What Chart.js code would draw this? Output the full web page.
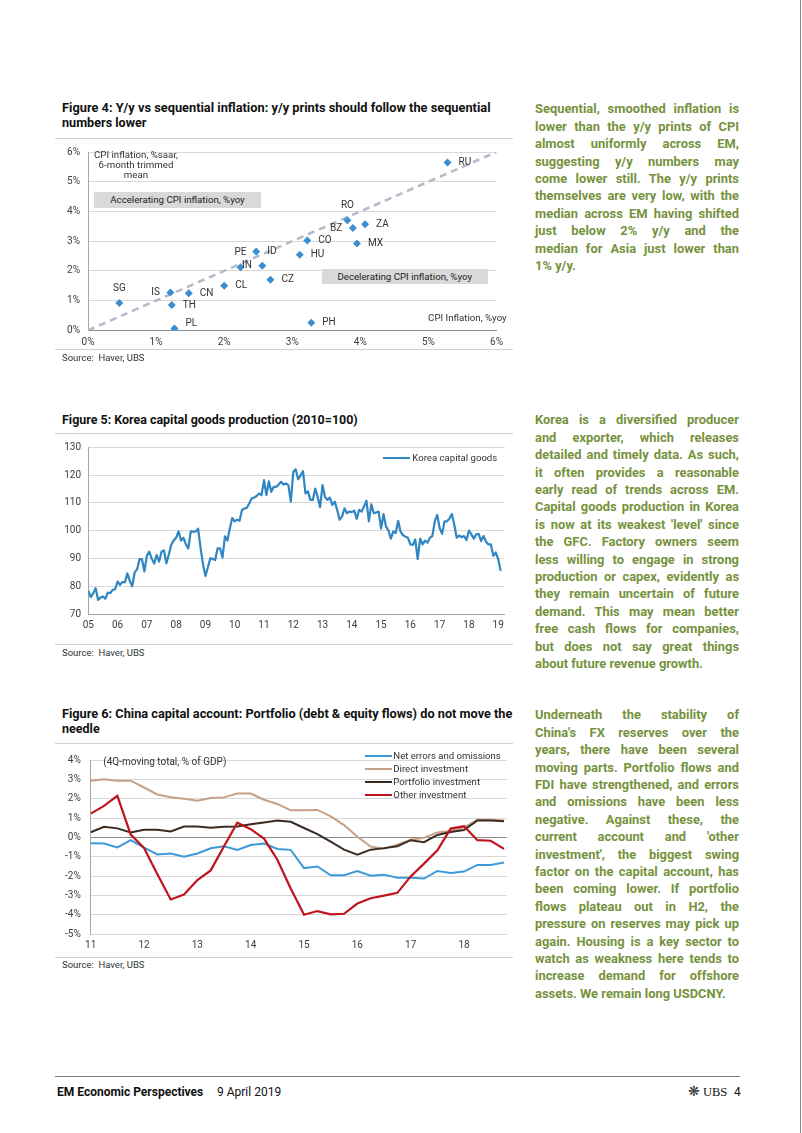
<!DOCTYPE html>
<html><head><meta charset="utf-8">
<script src="https://cdn.jsdelivr.net/npm/chart.js@4.4.1/dist/chart.umd.min.js"></script>
<style>
body{margin:0;background:#fff;}
#page{position:relative;width:802px;height:1133px;overflow:hidden;font-family:Roboto,"Open Sans",sans-serif;color:#1a1a1a;}
.abs{position:absolute;white-space:nowrap;}
.title{position:absolute;left:62px;font-weight:700;font-size:12px;line-height:15.3px;color:#111;white-space:nowrap;}
.hr{position:absolute;height:1px;background:#d0d0d0;}
.src{position:absolute;left:62px;font-size:9.5px;line-height:12px;color:#333;white-space:nowrap;}
.body{position:absolute;left:535px;width:204px;font-weight:700;font-size:12.9px;line-height:17.4px;color:#76923c;}
.body div{white-space:nowrap;width:204px;}
canvas{position:absolute;}
.note{position:absolute;font-size:9.7px;color:#333;white-space:nowrap;}
.box{position:absolute;background:#d9d9d9;font-size:9.7px;color:#222;text-align:center;white-space:nowrap;}
.leg{position:absolute;font-size:9.6px;line-height:12px;color:#333;white-space:nowrap;}
.legline{position:absolute;height:2.2px;}
</style>
</head>
<body>
<div id="page">
  <div style="position:absolute;left:800px;top:0;width:1px;height:1133px;background:#8a8a8a"></div>

  <!-- Figure 4 -->
  <div class="title fit" data-w="429" style="top:100px">Figure 4: Y/y vs sequential inflation: y/y prints should follow the sequential</div>
  <div class="title fit" data-w="84.5" style="top:115.3px">numbers lower</div>
  <div class="hr" style="left:55px;top:137.5px;width:458px"></div>
  <canvas id="c4" width="460" height="215" style="left:55px;top:138px;width:460px;height:215px"></canvas>
  <div class="note" style="left:86px;top:149.8px;width:100px;text-align:center;line-height:10.3px">CPI inflation, %saar,<br>6-month trimmed<br>mean</div>
  <div class="box" style="left:94.3px;top:192.3px;width:166.4px;height:15.4px;line-height:15.4px">Accelerating CPI inflation, %yoy</div>
  <div class="box" style="left:321.7px;top:269px;width:166px;height:15.4px;line-height:15.4px">Decelerating CPI inflation, %yoy</div>
  <div class="note" style="left:406.7px;top:311.7px;width:100px;text-align:right;line-height:12px">CPI Inflation, %yoy</div>
  <div class="hr" style="left:55px;top:349px;width:458px"></div>
  <div class="src" style="top:352.3px">Source:&nbsp;&nbsp;Haver, UBS</div>

  <!-- Figure 5 -->
  <div class="title fit" data-w="296" style="top:411.5px">Figure 5: Korea capital goods production (2010=100)</div>
  <div class="hr" style="left:55px;top:433.3px;width:458px"></div>
  <canvas id="c5" width="460" height="206" style="left:55px;top:434px;width:460px;height:206px"></canvas>
  <div class="legline" style="left:383.3px;top:457.2px;width:26.7px;background:#2f86c3"></div>
  <div class="leg" style="left:412.3px;top:452.3px">Korea capital goods</div>
  <div class="hr" style="left:55px;top:644px;width:458px"></div>
  <div class="src" style="top:647px">Source:&nbsp;&nbsp;Haver, UBS</div>

  <!-- Figure 6 -->
  <div class="title fit" data-w="451" style="top:705.5px">Figure 6: China capital account: Portfolio (debt &amp; equity flows) do not move the</div>
  <div class="title fit" data-w="37.7" style="top:720.8px">needle</div>
  <div class="hr" style="left:55px;top:743.3px;width:458px"></div>
  <canvas id="c6" width="465" height="208" style="left:55px;top:744px;width:465px;height:208px"></canvas>
  <div class="note" style="left:103.3px;top:755.7px;font-size:10px;line-height:12px">(4Q-moving total, % of GDP)</div>
  <div class="legline" style="left:365px;top:754.9px;width:26.7px;background:#3c9ad8"></div>
  <div class="leg" style="left:393.3px;top:750px">Net errors and omissions</div>
  <div class="legline" style="left:365px;top:767.9px;width:26.7px;background:#c4a188"></div>
  <div class="leg" style="left:393.3px;top:763px">Direct investment</div>
  <div class="legline" style="left:365px;top:780.6px;width:26.7px;background:#3b2a20"></div>
  <div class="leg" style="left:393.3px;top:775.7px">Portfolio investment</div>
  <div class="legline" style="left:365px;top:793.9px;width:26.7px;background:#c0141c"></div>
  <div class="leg" style="left:393.3px;top:789px">Other investment</div>
  <div class="hr" style="left:55px;top:956.7px;width:458px"></div>
  <div class="src" style="top:959px">Source:&nbsp;&nbsp;Haver, UBS</div>

  <!-- Right column text -->
  <div class="body" style="top:100.3px">
    <div class="j">Sequential, smoothed inflation is</div>
    <div class="j">lower than the y/y prints of CPI</div>
    <div class="j">almost uniformly across EM,</div>
    <div class="j">suggesting y/y numbers may</div>
    <div class="j">come lower still. The y/y prints</div>
    <div class="j">themselves are very low, with the</div>
    <div class="j">median across EM having shifted</div>
    <div class="j">just below 2% y/y and the</div>
    <div class="j">median for Asia just lower than</div>
    <div>1% y/y.</div>
  </div>
  <div class="body" style="top:411.3px">
    <div class="j">Korea is a diversified producer</div>
    <div class="j">and exporter, which releases</div>
    <div class="j">detailed and timely data. As such,</div>
    <div class="j">it often provides a reasonable</div>
    <div class="j">early read of trends across EM.</div>
    <div class="j">Capital goods production in Korea</div>
    <div class="j">is now at its weakest 'level' since</div>
    <div class="j">the GFC. Factory owners seem</div>
    <div class="j">less willing to engage in strong</div>
    <div class="j">production or capex, evidently as</div>
    <div class="j">they remain uncertain of future</div>
    <div class="j">demand. This may mean better</div>
    <div class="j">free cash flows for companies,</div>
    <div class="j">but does not say great things</div>
    <div>about future revenue growth.</div>
  </div>
  <div class="body" style="top:706.3px">
    <div class="j">Underneath the stability of</div>
    <div class="j">China's FX reserves over the</div>
    <div class="j">years, there have been several</div>
    <div class="j">moving parts. Portfolio flows and</div>
    <div class="j">FDI have strengthened, and errors</div>
    <div class="j">and omissions have been less</div>
    <div class="j">negative. Against these, the</div>
    <div class="j">current account and 'other</div>
    <div class="j">investment', the biggest swing</div>
    <div class="j">factor on the capital account, has</div>
    <div class="j">been coming lower. If portfolio</div>
    <div class="j">flows plateau out in H2, the</div>
    <div class="j">pressure on reserves may pick up</div>
    <div class="j">again. Housing is a key sector to</div>
    <div class="j">watch as weakness here tends to</div>
    <div class="j">increase demand for offshore</div>
    <div>assets. We remain long USDCNY.</div>
  </div>

  <!-- Footer -->
  <div class="hr" style="left:55px;top:1076px;width:685px;background:#7f7f7f"></div>
  <div class="abs" style="left:57px;top:1084px;font-size:12px;line-height:16px;font-weight:700;color:#111">EM Economic Perspectives</div>
  <div class="abs" style="left:217px;top:1084px;font-size:12px;line-height:16px;color:#111">9 April 2019</div>
  <div class="abs" style="left:688px;top:1083px;font-size:14px;line-height:16px;color:#333;font-family:'DejaVu Sans'">&#x274B;</div>
  <div class="abs" style="left:703px;top:1084px;font-size:12.5px;line-height:16px;color:#111;font-family:'Liberation Serif',serif">UBS</div>
  <div class="abs" style="left:734px;top:1084px;font-size:12px;line-height:16px;color:#111">4</div>
</div>

<script>
// ---------------- DATA ----------------
// Figure 4: CPI y/y (x) vs sequential %saar 6m trimmed mean (y)
const fig4Countries = ['RU','RO','BZ','ZA','MX','CO','HU','ID','PE','IN','CZ','CL','SG','IS','CN','TH','PL','PH'];
const fig4Yoy  = [5.28,3.81,3.89,4.07,3.95,3.22,3.11,2.47,2.24,2.56,2.68,2.00,0.46,1.21,1.48,1.23,1.27,3.28];
const fig4Saar = [5.65,3.70,3.44,3.57,2.92,3.02,2.54,2.65,2.12,2.17,1.70,1.50,0.92,1.27,1.25,0.85,0.06,0.25];
const fig4Parity = [0, 6];
const fig4Ticks = [0,1,2,3,4,5,6];

// Figure 5: Korea capital goods production (2010=100), monthly Jan-2005 .. Feb-2019
const koreaYearLabels = ['05','06','07','08','09','10','11','12','13','14','15','16','17','18','19'];
const koreaCapitalGoods = [
  78.5,76.2,77.5,79.4,75.2,76.0,76.4,75.6,77.8,77.6,78.8,79.0,
  81.8,80.6,81.6,81.5,84.7,82.0,80.1,85.0,86.2,89.8,89.8,85.4,
  91.0,92.5,90.0,88.2,91.3,88.9,92.5,93.0,88.3,91.5,95.0,96.5,
  97.5,99.8,96.5,97.5,95.1,93.7,99.8,99.7,99.7,100.8,93.9,88.0,
  83.8,86.8,90.1,89.9,89.5,93.7,93.7,90.4,98.0,96.5,100.8,104.6,
  103.4,104.0,103.6,107.5,108.0,108.3,109.9,111.7,111.9,112.5,113.4,112.8,
  118.2,112.8,117.8,114.0,115.8,115.8,116.6,117.6,116.6,117.0,116.4,110.5,
  121.1,122.1,118.5,119.9,121.4,113.4,114.2,111.1,111.1,115.2,112.2,108.5,
  116.4,112.2,111.1,111.9,109.3,110.5,107.5,104.0,105.1,108.1,106.3,106.9,
  106.7,107.2,104.3,107.5,106.9,108.7,110.8,103.4,109.5,106.3,106.6,106.9,
  100.8,106.0,101.6,100.1,97.2,99.8,99.2,103.6,99.6,98.4,97.9,97.5,
  95.1,94.9,96.9,89.8,97.2,95.1,96.5,95.7,97.5,98.1,103.4,105.7,
  101.0,98.9,103.4,103.4,104.3,106.0,102.2,97.5,98.3,97.7,98.1,96.7,
  100.1,98.7,97.2,98.7,98.9,96.3,98.1,96.1,95.1,95.1,91.0,92.2,
  89.8,85.6
];
const koreaYTicks = [70,80,90,100,110,120,130];

// Figure 6: China capital account, 4Q-moving total % of GDP, quarterly 2011Q1 .. 2018Q4
const chinaYearLabels = ['11','12','13','14','15','16','17','18'];
const netErrors    = [-0.30,-0.31,-0.51,-0.14,-0.52,-0.88,-0.83,-1.00,-0.83,-0.56,-0.45,-0.64,-0.39,-0.31,-0.59,-0.64,-1.58,-1.50,-1.95,-1.95,-1.73,-1.98,-1.92,-2.08,-2.08,-2.12,-1.73,-1.83,-1.76,-1.42,-1.42,-1.29];
const directInv    = [2.93,3.01,2.93,2.93,2.58,2.22,2.08,2.00,1.90,2.04,2.07,2.27,2.27,1.95,1.73,1.40,1.40,1.42,1.09,0.64,0.04,-0.47,-0.58,-0.37,-0.12,-0.02,0.26,0.33,0.52,0.92,0.92,0.88];
const portfolioInv = [0.27,0.55,0.47,0.26,0.40,0.40,0.31,0.56,0.56,0.50,0.55,0.57,0.68,0.77,0.87,0.81,0.49,0.17,-0.22,-0.63,-0.89,-0.63,-0.55,-0.45,-0.14,-0.24,0.13,0.28,0.38,0.88,0.88,0.84];
const otherInv     = [1.23,1.63,2.15,0.15,-0.54,-1.90,-3.20,-2.95,-2.20,-1.70,-0.45,0.76,0.43,-0.06,-1.15,-2.63,-3.99,-3.80,-3.97,-3.94,-3.41,-3.14,-3.00,-2.86,-2.01,-1.35,-0.66,0.46,0.58,-0.14,-0.17,-0.59];
const chinaYTicks = [-5,-4,-3,-2,-1,0,1,2,3,4];

// ---------------- STYLE / LAYOUT ----------------
const FONT = 'Roboto';
const tickFont = {family: FONT, size: 10};
const tickColor = '#404040';
const gridColor = '#d9d9d9';
const fig4LabelPos = {RU:'r',RO:'t',BZ:'l',ZA:'r',MX:'r',CO:'r',HU:'r',ID:'r',PE:'t',IN:'l',CZ:'r',CL:'r',SG:'t',IS:'l',CN:'r',TH:'r',PL:'ru',PH:'r'};

const base = {
  animation: false, responsive: false, events: [],
  plugins: {legend: {display: false}, tooltip: {enabled: false}}
};

const pointLabels = {
  id: 'pointLabels',
  afterDatasetsDraw(chart) {
    const meta = chart.getDatasetMeta(0);
    const ctx = chart.ctx;
    ctx.save();
    ctx.font = '10px ' + FONT;
    ctx.fillStyle = '#333';
    ctx.textBaseline = 'middle';
    meta.data.forEach((pt, i) => {
      const name = fig4Countries[i];
      const p = fig4LabelPos[name];
      let x = pt.x, y = pt.y;
      if (p === 'r') { ctx.textAlign = 'left'; x += 11; }
      else if (p === 'ru') { ctx.textAlign = 'left'; x += 11; y -= 5.5; }
      else if (p === 'l') { ctx.textAlign = 'right'; x -= 10.5; }
      else { ctx.textAlign = 'center'; y -= 14.5; }
      ctx.fillText(name, x, y);
    });
    ctx.restore();
  }
};

// Figure 4
new Chart(document.getElementById('c4'), {
  type: 'scatter',
  data: {datasets: [
    {data: fig4Countries.map((c, i) => ({x: fig4Yoy[i], y: fig4Saar[i]})),
     pointStyle: 'rectRot', pointRadius: 4, backgroundColor: '#3b8ed0', borderColor: '#3b8ed0', borderWidth: 0},
    {type: 'line', data: fig4Parity.map(v => ({x: v, y: v})),
     borderColor: '#b4bccb', borderWidth: 2.6, borderDash: [7, 5], pointRadius: 0, fill: false}
  ]},
  options: Object.assign({}, base, {
    layout: {padding: {top: 6.3, right: 18.5, left: 0, bottom: 0}},
    scales: {
      x: {type: 'linear', min: 0, max: 6,
          afterBuildTicks: s => { s.ticks = fig4Ticks.map(v => ({value: v})); },
          ticks: {callback: v => v + '%', padding: 5.7, color: tickColor, font: tickFont, maxRotation: 0, autoSkip: false},
          grid: {display: false, drawTicks: false},
          border: {color: '#8c8c8c', width: 1},
          afterFit: s => { s.height = 22.7; }},
      y: {min: 0, max: 6,
          afterBuildTicks: s => { s.ticks = fig4Ticks.map(v => ({value: v})); },
          ticks: {callback: v => v + '%', padding: 8, color: tickColor, font: tickFont},
          grid: {color: gridColor, drawTicks: false},
          border: {color: '#a6a6a6', width: 1},
          afterFit: s => { s.width = 33; }}
    }
  }),
  plugins: [pointLabels]
});

// Figure 5
new Chart(document.getElementById('c5'), {
  type: 'line',
  data: {datasets: [
    {data: koreaCapitalGoods.map((v, i) => ({x: i, y: v})),
     borderColor: '#2f86c3', borderWidth: 2.2, pointRadius: 0, tension: 0, fill: false, borderJoinStyle: 'round'}
  ]},
  options: Object.assign({}, base, {
    layout: {padding: {top: 11, right: 10.2, left: 0, bottom: 0}},
    scales: {
      x: {type: 'linear', min: 0, max: 170.7,
          afterBuildTicks: s => { s.ticks = koreaYearLabels.map((l, i) => ({value: i * 12})); },
          ticks: {callback: v => koreaYearLabels[Math.round(v / 12)], padding: 4.7, color: tickColor, font: tickFont, maxRotation: 0, autoSkip: false},
          grid: {display: false, drawTicks: false},
          border: {color: '#a6a6a6', width: 1},
          afterFit: s => { s.height = 25.7; }},
      y: {min: 70, max: 130,
          afterBuildTicks: s => { s.ticks = koreaYTicks.map(v => ({value: v})); },
          ticks: {padding: 7.3, color: tickColor, font: tickFont},
          grid: {color: gridColor, drawTicks: false},
          border: {color: '#a6a6a6', width: 1},
          afterFit: s => { s.width = 33.3; }}
    }
  })
});

// Figure 6 (first dataset is drawn on top)
const q = arr => arr.map((v, i) => ({x: i, y: v}));
new Chart(document.getElementById('c6'), {
  type: 'line',
  data: {datasets: [
    {data: q(otherInv), borderColor: '#c0141c', borderWidth: 2.2, pointRadius: 0, tension: 0},
    {data: q(portfolioInv), borderColor: '#3b2a20', borderWidth: 2, pointRadius: 0, tension: 0},
    {data: q(netErrors), borderColor: '#3c9ad8', borderWidth: 2, pointRadius: 0, tension: 0},
    {data: q(directInv), borderColor: '#c4a188', borderWidth: 2, pointRadius: 0, tension: 0}
  ]},
  options: Object.assign({}, base, {
    layout: {padding: {top: 7, right: 13.3, left: 0, bottom: 0}},
    scales: {
      x: {type: 'linear', min: 0, max: 31.2,
          afterBuildTicks: s => { s.ticks = chinaYearLabels.map((l, i) => ({value: i * 4})); },
          ticks: {callback: v => chinaYearLabels[Math.round(v / 4)], padding: 5.4, color: tickColor, font: tickFont, maxRotation: 0, autoSkip: false},
          grid: {display: false, drawTicks: false},
          border: {color: gridColor, width: 1},
          afterFit: s => { s.height = 17.7; }},
      y: {min: -5, max: 4,
          afterBuildTicks: s => { s.ticks = chinaYTicks.map(v => ({value: v})); },
          ticks: {callback: v => v + '%', padding: 10, color: tickColor, font: tickFont},
          grid: {color: c => (c.tick && c.tick.value === 0) ? '#8c8c8c' : gridColor, drawTicks: false},
          border: {color: '#a6a6a6', width: 1},
          afterFit: s => { s.width = 35.7; }}
    }
  })
});

// ---------------- text fitting ----------------
function textWidth(el) {
  const r = document.createRange();
  r.selectNodeContents(el);
  return r.getBoundingClientRect().width;
}
function fitText() {
  document.querySelectorAll('.body .j').forEach(d => {
    d.style.wordSpacing = '0px'; d.style.letterSpacing = '0px';
    const w = textWidth(d), target = 204;
    const t = d.textContent;
    const n = (t.match(/ /g) || []).length;
    if (w < target && n > 0) d.style.wordSpacing = ((target - w) / n) + 'px';
    else if (w > target) d.style.letterSpacing = (-(w - target) / (t.length - 1)) + 'px';
  });
  document.querySelectorAll('.fit').forEach(d => {
    d.style.fontSize = '12px';
    const w = textWidth(d), target = parseFloat(d.dataset.w);
    d.style.fontSize = (12 * target / w) + 'px';
  });
}
fitText();
if (document.fonts && document.fonts.ready) document.fonts.ready.then(fitText);
</script>
</body></html>
